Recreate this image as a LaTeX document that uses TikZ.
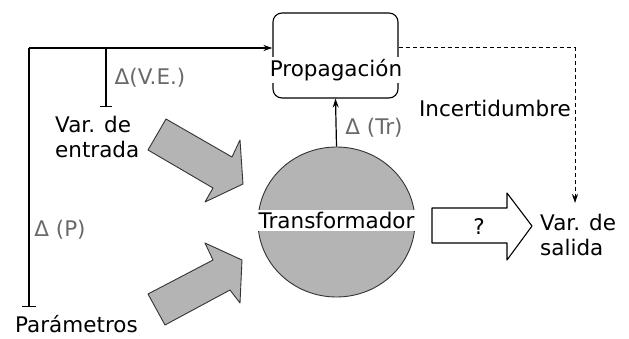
\documentclass[tikz,border=0pt]{standalone}
\usepackage{fontspec}
\setmainfont{DejaVu Sans}
\usetikzlibrary{arrows.meta,shapes.geometric}
\definecolor{grisrelleno}{RGB}{180,180,180}
\definecolor{grisetiqueta}{RGB}{105,105,105}
\tikzset{
  texto/.style={font=\fontsize{21.5}{25}\selectfont, inner sep=0pt},
  delta/.style={texto, text=grisetiqueta},
  bloque/.style={draw=black!80, line width=0.9pt, fill=grisrelleno, line join=round},
}
\begin{document}
\begin{tikzpicture}[>={Stealth[length=9pt,width=6pt]},x=1pt,y=-1pt]
\useasboundingbox (0,0) rectangle (629,339);
% caja de propagacion
\node[draw, line width=1.1pt, rounded corners=9pt, minimum width=125pt, minimum height=85pt] (prop) at (335.5,55.5) {};
\node[texto, fill=white, inner ysep=2pt] (proptxt) at (336,70) {Propagación};
% transformador
\node[ellipse, draw=black!80, line width=0.9pt, fill=grisrelleno, minimum width=157pt, minimum height=150pt, inner sep=0pt] (trans) at (336.5,222) {};
\node[texto, fill=white, minimum width=160pt, minimum height=21pt] (transtxt) at (336.5,220.5) {Transformador};
% textos
\node[texto, align=left, anchor=west] (entrada) at (55,137) {Var. de\\entrada};
\node[texto, anchor=west] (param) at (15,324) {Parámetros};
\node[texto, align=left, anchor=west] (salida) at (540,235) {Var. de\\salida};
\node[texto] (incert) at (495,108) {Incertidumbre};
\node[delta] (dve) at (150,78) {Δ(V.E.)};
\node[delta] (dtr) at (374,128) {Δ (Tr)};
\node[delta] (dp) at (60,230) {Δ (P)};
% lineas
\coordinate (esq) at (29,48);
\coordinate (pbase) at (29,307);
\coordinate (rama) at (106,48);
\coordinate (vebase) at (106,107);
\coordinate (desq) at (575,48);
\coordinate (dfin) at (575,203);
\draw[line width=1.3pt, {Bar[width=14pt]}-] (pbase) -- (esq);
\draw[line width=1.3pt, ->] (esq) -- (esq -| prop.west);
\draw[line width=1.3pt, -{Bar[width=12pt]}] (rama) -- (vebase);
\draw[line width=1.2pt, ->] (trans.north) -- (prop.south);
\draw[dash pattern=on 4.5pt off 2.5pt, line width=1pt, ->] (esq -| prop.east) -- (desq) -- (dfin);
% flechas gruesas
\draw[bloque] (166,119) -- (232,157) -- (240,140) -- (243,184) -- (205,202) -- (213,188) -- (148,150) -- cycle;
\draw[bloque] (165,325) -- (230,290) -- (240,303) -- (242,260) -- (205,243) -- (213,260) -- (148,294) -- cycle;
\draw[line width=1.1pt, fill=white, line join=round] (432,208) -- (507,208) -- (507,193) -- (532,226) -- (507,260) -- (507,243) -- (432,243) -- cycle;
\node[texto] (duda) at (479,227) {?};
\end{tikzpicture}
\end{document}
